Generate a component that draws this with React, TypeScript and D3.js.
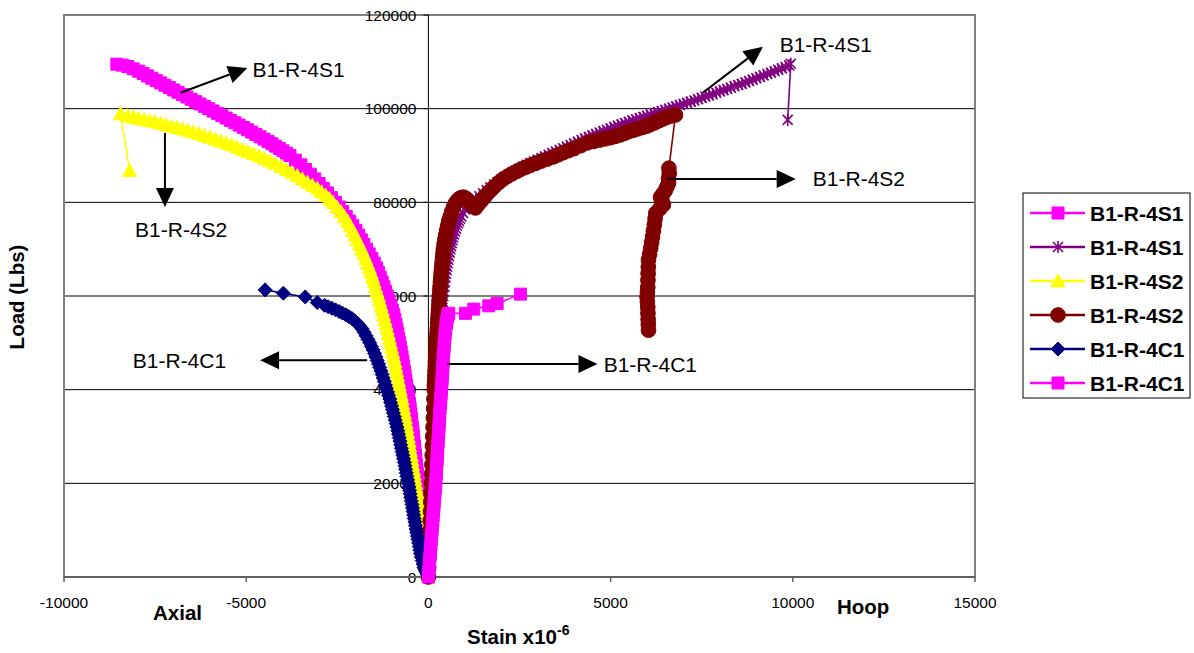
import React, { useEffect, useRef } from "react";
import * as d3 from "d3";

type Pt = [number, number];

const s1Axial: Pt[] = [
  [0, 0], [-12, 1000], [-25, 2000], [-38, 3000], [-50, 4000], [-65, 5000], [-80, 6000], [-92, 7000],
  [-105, 8000], [-118, 9000], [-130, 10000], [-145, 11000], [-160, 12000], [-172, 13000], [-185, 14000],
  [-200, 15000], [-215, 16000], [-230, 17000], [-245, 18000], [-260, 19000], [-275, 20000], [-288, 21000],
  [-300, 22000], [-315, 23000], [-330, 24000], [-342, 25000], [-355, 26000], [-370, 27000], [-385, 28000],
  [-398, 29000], [-410, 30000], [-425, 31000], [-440, 32000], [-455, 33000], [-470, 34000], [-485, 35000],
  [-500, 36000], [-520, 37000], [-540, 38000], [-560, 39000], [-580, 40000], [-600, 41000], [-620, 42000],
  [-640, 43000], [-660, 44000], [-680, 45000], [-700, 46000], [-722, 47000], [-745, 48000], [-768, 49000],
  [-790, 50000], [-815, 51000], [-840, 52000], [-865, 53000], [-890, 54000], [-920, 55000], [-950, 56000],
  [-990, 57000], [-1030, 58000], [-1080, 59000], [-1130, 60000], [-1175, 61000], [-1220, 62000],
  [-1270, 63000], [-1320, 64000], [-1370, 65000], [-1420, 66000], [-1485, 67000], [-1550, 68000],
  [-1625, 69000], [-1700, 70000], [-1770, 71000], [-1840, 72000], [-1915, 73000], [-1990, 74000],
  [-2075, 75000], [-2160, 76000], [-2255, 77000], [-2350, 78000], [-2450, 79000], [-2550, 80000],
  [-2660, 81000], [-2770, 82000], [-2885, 83000], [-3000, 84000], [-3120, 85000], [-3240, 86000],
  [-3370, 87000], [-3500, 88000], [-3650, 89000], [-3800, 90000], [-3895, 90500], [-3990, 91000],
  [-4090, 91500], [-4190, 92000], [-4295, 92500], [-4400, 93000], [-4510, 93500], [-4620, 94000],
  [-4735, 94500], [-4850, 95000], [-4965, 95500], [-5080, 96000], [-5195, 96500], [-5310, 97000],
  [-5430, 97500], [-5550, 98000], [-5670, 98500], [-5790, 99000], [-5910, 99500], [-6030, 100000],
  [-6150, 100500], [-6270, 101000], [-6390, 101500], [-6510, 102000], [-6630, 102500], [-6750, 103000],
  [-6870, 103500], [-6990, 104000], [-7110, 104500], [-7230, 105000], [-7350, 105500], [-7470, 106000],
  [-7590, 106500], [-7710, 107000], [-7830, 107500], [-7950, 108000], [-8100, 108500], [-8250, 109000],
  [-8400, 109300], [-8550, 109500],
];

const s1Hoop: Pt[] = [
  [0, 0], [12, 2500], [25, 5000], [37, 7500], [50, 10000], [62, 12500], [75, 15000], [87, 17500],
  [100, 20000], [115, 22500], [130, 25000], [145, 27500], [160, 30000], [175, 32500], [190, 35000],
  [207, 37500], [225, 40000], [236, 41250], [247, 42500], [258, 43750], [270, 45000], [282, 46250],
  [295, 47500], [308, 48750], [320, 50000], [330, 51250], [340, 52500], [350, 53750], [360, 55000],
  [372, 56250], [385, 57500], [398, 58750], [410, 60000], [425, 61000], [440, 62000], [455, 63000],
  [470, 64000], [485, 64750], [500, 65500], [515, 66250], [530, 67000], [548, 67750], [565, 68500],
  [582, 69250], [600, 70000], [620, 70650], [640, 71300], [660, 71900], [680, 72500], [705, 73150],
  [730, 73800], [755, 74400], [780, 75000], [810, 75500], [840, 76000], [870, 76500], [900, 77000],
  [950, 77750], [1000, 78500], [1100, 79200], [1200, 79900], [1300, 80600], [1400, 81300],
  [1500, 81950], [1600, 82600], [1700, 83200], [1800, 83800], [1900, 84350], [2000, 84900],
  [2100, 85400], [2200, 85900], [2300, 86350], [2400, 86800], [2500, 87200], [2600, 87600],
  [2700, 88000], [2800, 88400], [2900, 88750], [3000, 89100], [3100, 89450], [3200, 89800],
  [3300, 90150], [3400, 90500], [3500, 90850], [3600, 91200], [3700, 91550], [3800, 91900],
  [3900, 92250], [4000, 92600], [4100, 92950], [4200, 93300], [4300, 93650], [4400, 94000],
  [4500, 94300], [4600, 94600], [4700, 94900], [4800, 95200], [4900, 95500], [5000, 95800],
  [5100, 96100], [5200, 96400], [5300, 96650], [5400, 96900], [5500, 97200], [5600, 97500],
  [5700, 97750], [5800, 98000], [5900, 98250], [6000, 98500], [6100, 98750], [6200, 99000],
  [6300, 99250], [6400, 99500], [6500, 99750], [6600, 100000], [6700, 100250], [6800, 100500],
  [6900, 100750], [7000, 101000], [7100, 101250], [7200, 101500], [7300, 101750], [7400, 102000],
  [7500, 102300], [7600, 102600], [7700, 102850], [7800, 103100], [7900, 103400], [8000, 103700],
  [8100, 103950], [8200, 104200], [8300, 104500], [8400, 104800], [8500, 105050], [8600, 105300],
  [8700, 105600], [8800, 105900], [8900, 106200], [9000, 106500], [9100, 106800], [9200, 107100],
  [9300, 107400], [9400, 107700], [9500, 108000], [9600, 108300], [9700, 108600], [9800, 108900],
  [9900, 109250], [9945, 109600], [9860, 97600],
];

const s2Axial: Pt[] = [
  [0, 0], [-20, 1000], [-40, 2000], [-60, 3000], [-80, 4000], [-95, 5000], [-110, 6000], [-125, 7000],
  [-140, 8000], [-155, 9000], [-170, 10000], [-185, 11000], [-200, 12000], [-215, 13000], [-230, 14000],
  [-250, 15000], [-270, 16000], [-290, 17000], [-310, 18000], [-330, 19000], [-350, 20000], [-370, 21000],
  [-390, 22000], [-410, 23000], [-430, 24000], [-450, 25000], [-470, 26000], [-490, 27000], [-510, 28000],
  [-530, 29000], [-550, 30000], [-570, 31000], [-590, 32000], [-610, 33000], [-630, 34000], [-655, 35000],
  [-680, 36000], [-700, 37000], [-720, 38000], [-745, 39000], [-770, 40000], [-795, 41000], [-820, 42000],
  [-845, 43000], [-870, 44000], [-895, 45000], [-920, 46000], [-950, 47000], [-980, 48000], [-1010, 49000],
  [-1040, 50000], [-1070, 51000], [-1100, 52000], [-1130, 53000], [-1160, 54000], [-1195, 55000],
  [-1230, 56000], [-1265, 57000], [-1300, 58000], [-1335, 59000], [-1370, 60000], [-1410, 61000],
  [-1450, 62000], [-1490, 63000], [-1530, 64000], [-1575, 65000], [-1620, 66000], [-1670, 67000],
  [-1720, 68000], [-1775, 69000], [-1830, 70000], [-1890, 71000], [-1950, 72000], [-2015, 73000],
  [-2080, 74000], [-2150, 75000], [-2220, 76000], [-2310, 77000], [-2400, 78000], [-2510, 79000],
  [-2620, 80000], [-2720, 80800], [-2820, 81500], [-2935, 82250], [-3050, 83000], [-3185, 83650],
  [-3320, 84300], [-3460, 85000], [-3600, 85700], [-3750, 86350], [-3900, 87000], [-4050, 87650],
  [-4200, 88300], [-4350, 88850], [-4500, 89400], [-4650, 89900], [-4800, 90400], [-4950, 90850],
  [-5100, 91300], [-5250, 91800], [-5400, 92300], [-5550, 92700], [-5700, 93100], [-5850, 93500],
  [-6000, 93900], [-6150, 94300], [-6300, 94700], [-6450, 95050], [-6600, 95400], [-6750, 95700],
  [-6900, 96000], [-7050, 96300], [-7200, 96600], [-7350, 96900], [-7500, 97200], [-7650, 97450],
  [-7800, 97700], [-7950, 97950], [-8100, 98200], [-8250, 98500], [-8450, 98900], [-8200, 86800],
];

const s2Hoop: Pt[] = [
  [0, 0], [8, 2000], [16, 4000], [24, 6000], [32, 8000], [40, 10000], [48, 12000], [56, 14000],
  [64, 16000], [72, 18000], [80, 20000], [88, 22000], [96, 24000], [104, 26000], [112, 28000],
  [120, 30000], [128, 32000], [136, 34000], [144, 36000], [152, 38000], [160, 40000], [166, 41000],
  [172, 42000], [178, 43000], [184, 44000], [190, 45000], [196, 46000], [202, 47000], [208, 48000],
  [214, 49000], [220, 50000], [228, 51000], [236, 52000], [244, 53000], [252, 54000], [260, 55000],
  [268, 56000], [276, 57000], [284, 58000], [292, 59000], [300, 60000], [310, 61000], [320, 62000],
  [330, 63000], [340, 64000], [350, 65000], [362, 66000], [374, 67000], [386, 68000], [398, 69000],
  [410, 70000], [430, 71000], [450, 72000], [475, 73000], [500, 74000], [530, 75000], [560, 76000],
  [600, 77000], [640, 78000], [690, 79000], [740, 79800], [795, 80400], [850, 80800], [905, 81000],
  [960, 81100], [1020, 80900], [1080, 80500], [1135, 80000], [1190, 79500], [1240, 79100],
  [1290, 78800], [1370, 79600], [1450, 80300], [1525, 81000], [1600, 81700], [1700, 82500],
  [1800, 83300], [1930, 84200], [2060, 85000], [2180, 85600], [2300, 86100], [2425, 86600],
  [2550, 87100], [2675, 87500], [2800, 87900], [2950, 88350], [3100, 88800], [3265, 89250],
  [3430, 89700], [3565, 90150], [3700, 90600], [3850, 91050], [4000, 91500], [4185, 92100],
  [4370, 92700], [4535, 93000], [4700, 93300], [4850, 93550], [5000, 93800], [5135, 94100],
  [5270, 94400], [5385, 94750], [5500, 95100], [5625, 95400], [5750, 95700], [5875, 96000],
  [6000, 96300], [6090, 96600], [6180, 96900], [6265, 97200], [6350, 97500], [6455, 97850],
  [6560, 98200], [6670, 98450], [6780, 98650], [6600, 87300], [6610, 86200], [6590, 85100],
  [6590, 84100], [6545, 83300], [6500, 82500], [6435, 81800], [6370, 81100], [6410, 80300],
  [6450, 79500], [6345, 78600], [6240, 77700], [6220, 76500], [6200, 75200], [6175, 73900],
  [6150, 72600], [6125, 71400], [6100, 70200], [6070, 68900], [6040, 67700], [6035, 66200],
  [6030, 64800], [6025, 63400], [6020, 61900], [6010, 60800], [6000, 59800], [6010, 58700],
  [6020, 57600], [6025, 56300], [6030, 55000], [6035, 53900], [6040, 52700],
];

const c1Axial: Pt[] = [
  [0, 0], [-30, 500], [-60, 1000], [-90, 1500], [-120, 2000], [-145, 2750], [-170, 3500], [-195, 4250],
  [-220, 5000], [-235, 5750], [-250, 6500], [-268, 7250], [-285, 8000], [-302, 8750], [-320, 9500],
  [-338, 10250], [-355, 11000], [-372, 11750], [-390, 12500], [-405, 13250], [-420, 14000], [-435, 14750],
  [-450, 15500], [-468, 16250], [-485, 17000], [-500, 17750], [-515, 18500], [-532, 19250], [-550, 20000],
  [-570, 20750], [-590, 21500], [-608, 22250], [-625, 23000], [-642, 23750], [-660, 24500], [-680, 25250],
  [-700, 26000], [-720, 26750], [-740, 27500], [-760, 28250], [-780, 29000], [-800, 29750], [-820, 30500],
  [-840, 31250], [-860, 32000], [-885, 32750], [-910, 33500], [-935, 34250], [-960, 35000], [-985, 35750],
  [-1010, 36500], [-1035, 37250], [-1060, 38000], [-1090, 38750], [-1120, 39500], [-1150, 40250],
  [-1180, 41000], [-1210, 41750], [-1240, 42500], [-1270, 43250], [-1300, 44000], [-1335, 44750],
  [-1370, 45500], [-1405, 46250], [-1440, 47000], [-1480, 47750], [-1520, 48500], [-1565, 49250],
  [-1610, 50000], [-1660, 50750], [-1710, 51500], [-1765, 52250], [-1820, 53000], [-1885, 53600],
  [-1950, 54200], [-2025, 54700], [-2100, 55200], [-2185, 55600], [-2270, 56000], [-2360, 56350],
  [-2450, 56700], [-2550, 57050], [-2650, 57400], [-2750, 57700], [-2850, 58000], [-3050, 58600],
  [-3380, 59800], [-3980, 60600], [-4480, 61300],
];

const c1Hoop: Pt[] = [
  [0, 0], [10, 1000], [20, 2000], [30, 3000], [40, 4000], [50, 5000], [60, 6000], [70, 7000], [80, 8000],
  [90, 9000], [100, 10000], [110, 11000], [120, 12000], [130, 13000], [140, 14000], [150, 15000],
  [160, 16000], [170, 17000], [180, 18000], [190, 19000], [200, 20000], [208, 21000], [215, 22000],
  [222, 23000], [230, 24000], [238, 25000], [245, 26000], [252, 27000], [260, 28000], [268, 29000],
  [275, 30000], [282, 31000], [290, 32000], [298, 33000], [305, 34000], [312, 35000], [320, 36000],
  [330, 37000], [340, 38000], [348, 39000], [357, 40000], [366, 41000], [375, 42000], [382, 43000],
  [390, 44000], [398, 45000], [405, 46000], [412, 47000], [420, 48000], [430, 49000], [440, 50000],
  [450, 51000], [460, 52000], [475, 53000], [490, 54000], [505, 54800], [520, 55500], [540, 56000],
  [559, 56300], [1016, 56300], [1245, 57200], [1657, 57900], [1886, 58400], [2527, 60400],
];

const seriesNames = ["B1-R-4S1", "B1-R-4S1", "B1-R-4S2", "B1-R-4S2", "B1-R-4C1", "B1-R-4C1"];
const seriesColors = ["#FF00FF", "#800080", "#FFFF00", "#800000", "#000080", "#FF00FF"];
const seriesMarkers = ["square", "star", "triangle", "circle", "diamond", "square"];
const seriesData = [s1Axial, s1Hoop, s2Axial, s2Hoop, c1Axial, c1Hoop];

const xTicks = [-10000, -5000, 0, 5000, 10000, 15000];
const yTicks = [0, 20000, 40000, 60000, 80000, 100000, 120000];

// callout labels with arrows, in data units
const callouts = [
  { text: "B1-R-4S1", at: [-4830, 108300], anchor: "start", from: [-6800, 103400], to: [-4970, 108700] },
  { text: "B1-R-4S2", at: [-8050, 74300], anchor: "start", from: [-7230, 94800], to: [-7230, 79000] },
  { text: "B1-R-4C1", at: [-5550, 46300], anchor: "end", from: [-1680, 46300], to: [-4620, 46300] },
  { text: "B1-R-4C1", at: [4810, 45300], anchor: "start", from: [520, 45500], to: [4640, 45500] },
  { text: "B1-R-4S2", at: [10550, 85000], anchor: "start", from: [6570, 85000], to: [10080, 85000] },
  { text: "B1-R-4S1", at: [9640, 113600], anchor: "start", from: [7530, 103400], to: [9180, 113200] },
];

const FONT = "'Liberation Sans', Arial, Helvetica, sans-serif";

const markerPath = (m: string) => {
  if (m === "square") return "M-6,-6H6V6H-6Z";
  if (m === "triangle") return "M0,-7L7,6L-7,6Z";
  if (m === "diamond") return "M0,-7L7,0L0,7L-7,0Z";
  if (m === "star") return "M-5,-5L5,5M-5,5L5,-5M0,-6V6";
  return d3.symbol(d3.symbolCircle, 170)() as string;
};

const drawMarker = (g: any, m: string, color: string, x: number, y: number) => {
  g.append("path")
    .attr("d", markerPath(m))
    .attr("transform", `translate(${x},${y})`)
    .attr("fill", m === "star" ? "none" : color)
    .attr("stroke", color)
    .attr("stroke-width", m === "star" ? 1.6 : 1);
};

const LoadStrainChart = () => {
  const svgRef = useRef<SVGSVGElement>(null);

  useEffect(() => {
    document.body.style.margin = "0";
    const svg = d3.select(svgRef.current);
    svg.selectAll("*").remove();

    const left = 64, right = 975, top = 15, bottom = 577;
    const x = d3.scaleLinear().domain([-10000, 15000]).range([left, right]);
    const y = d3.scaleLinear().domain([0, 120000]).range([bottom, top]);

    svg.append("rect").attr("width", 1194).attr("height", 653).attr("fill", "#fff");

    // gridlines
    svg
      .append("g")
      .selectAll("line")
      .data(yTicks.filter((t) => t > 0 && t < 120000))
      .enter()
      .append("line")
      .attr("x1", left)
      .attr("x2", right)
      .attr("y1", (d) => y(d))
      .attr("y2", (d) => y(d))
      .attr("stroke", "#000")
      .attr("stroke-width", 1);

    // plot frame
    svg
      .append("rect")
      .attr("x", left)
      .attr("y", top)
      .attr("width", right - left)
      .attr("height", bottom - top)
      .attr("fill", "none")
      .attr("stroke", "#808080")
      .attr("stroke-width", 2);

    // y axis at strain 0
    const x0 = x(0);
    svg.append("line").attr("x1", x0).attr("x2", x0).attr("y1", top).attr("y2", bottom)
      .attr("stroke", "#000").attr("stroke-width", 1);
    const yAx = svg.append("g");
    yTicks.forEach((t) => {
      yAx.append("line").attr("x1", x0 - 5).attr("x2", x0).attr("y1", y(t)).attr("y2", y(t))
        .attr("stroke", "#000");
      yAx.append("text")
        .attr("x", x0 - 12)
        .attr("y", y(t))
        .attr("text-anchor", "end")
        .attr("dominant-baseline", "central")
        .attr("font-family", FONT)
        .attr("font-size", 15.5)
        .text(t);
    });

    // x axis
    svg.append("line").attr("x1", left).attr("x2", right).attr("y1", bottom).attr("y2", bottom)
      .attr("stroke", "#606060").attr("stroke-width", 2);
    const xAx = svg.append("g");
    xTicks.forEach((t) => {
      xAx.append("line").attr("x1", x(t)).attr("x2", x(t)).attr("y1", bottom).attr("y2", bottom + 5)
        .attr("stroke", "#606060").attr("stroke-width", 1.5);
      xAx.append("text")
        .attr("x", x(t))
        .attr("y", 602)
        .attr("text-anchor", "middle")
        .attr("dominant-baseline", "central")
        .attr("font-family", FONT)
        .attr("font-size", 15.5)
        .text(t);
    });

    // series
    const line = d3.line<Pt>().x((d) => x(d[0])).y((d) => y(d[1]));
    seriesData.forEach((data, i) => {
      const g = svg.append("g");
      g.append("path")
        .attr("d", line(data))
        .attr("fill", "none")
        .attr("stroke", seriesColors[i])
        .attr("stroke-width", 1.6);
      data.forEach((d) => drawMarker(g, seriesMarkers[i], seriesColors[i], x(d[0]), y(d[1])));
    });

    // callouts
    const cg = svg.append("g");
    callouts.forEach((c) => {
      const x1 = x(c.from[0]), y1 = y(c.from[1]);
      const x2 = x(c.to[0]), y2 = y(c.to[1]);
      const ang = Math.atan2(y2 - y1, x2 - x1);
      const hl = 19, hw = 9;
      const bx = x2 - hl * Math.cos(ang), by = y2 - hl * Math.sin(ang);
      cg.append("line").attr("x1", x1).attr("y1", y1).attr("x2", bx).attr("y2", by)
        .attr("stroke", "#000").attr("stroke-width", 2);
      const px = -Math.sin(ang) * hw, py = Math.cos(ang) * hw;
      cg.append("path")
        .attr("d", `M${x2},${y2}L${bx + px},${by + py}L${bx - px},${by - py}Z`)
        .attr("fill", "#000");
      cg.append("text")
        .attr("x", x(c.at[0]))
        .attr("y", y(c.at[1]))
        .attr("text-anchor", c.anchor)
        .attr("dominant-baseline", "central")
        .attr("font-family", FONT)
        .attr("font-size", 21)
        .text(c.text);
    });

    // axis titles
    const bold = (t: string, tx: number, ty: number) =>
      svg.append("text").attr("x", tx).attr("y", ty).attr("font-family", FONT)
        .attr("font-size", 20.5).attr("font-weight", "bold").text(t);
    bold("Axial", 153, 620);
    bold("Hoop", 837, 614);
    const st = bold("Stain x10", 467, 644);
    st.append("tspan").attr("dy", -9).attr("font-size", 14).text("-6");
    svg.append("text")
      .attr("transform", "translate(24,297) rotate(-90)")
      .attr("text-anchor", "middle")
      .attr("font-family", FONT)
      .attr("font-size", 20.5)
      .attr("font-weight", "bold")
      .text("Load (Lbs)");

    // legend
    const lg = svg.append("g");
    lg.append("rect").attr("x", 1023).attr("y", 193).attr("width", 167).attr("height", 205)
      .attr("fill", "#fff").attr("stroke", "#000").attr("stroke-width", 1);
    seriesNames.forEach((name, i) => {
      const ly = 213 + i * 34;
      lg.append("line").attr("x1", 1030).attr("x2", 1085).attr("y1", ly).attr("y2", ly)
        .attr("stroke", seriesColors[i]).attr("stroke-width", 2.5);
      drawMarker(lg, seriesMarkers[i], seriesColors[i], 1058, ly);
      lg.append("text")
        .attr("x", 1090)
        .attr("y", ly)
        .attr("dominant-baseline", "central")
        .attr("font-family", FONT)
        .attr("font-size", 21)
        .attr("font-weight", "bold")
        .text(name);
    });
  }, []);

  return <svg ref={svgRef} width={1194} height={653} style={{ display: "block" }}></svg>;
};

export default function App() {
  return <LoadStrainChart />;
}
